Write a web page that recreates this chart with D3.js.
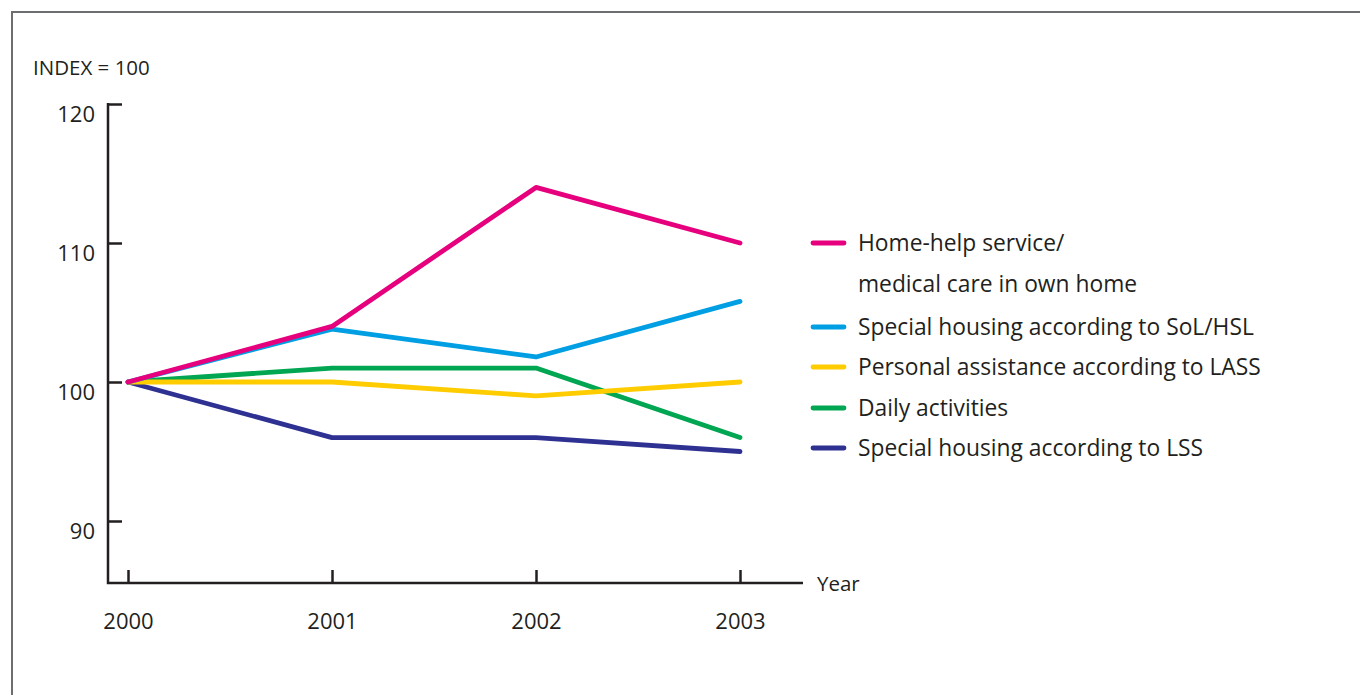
<!DOCTYPE html>
<html>
<head>
<meta charset="utf-8">
<script src="https://cdn.jsdelivr.net/npm/d3@7"></script>
<style>
  html, body { margin: 0; padding: 0; background: #fff; }
  svg { display: block; }
  text { font-family: "Open Sans", "Noto Sans", sans-serif; fill: #231f20; }
</style>
</head>
<body>
<svg id="chart" width="1360" height="695"></svg>
<script>
// Index development, 2000 = 100
const years = ["2000", "2001", "2002", "2003"];
const yTicks = [90, 100, 110, 120];

const homeHelp      = [100, 104, 114, 110];
const housingSoL    = [100, 103.8, 101.8, 105.8];
const assistLASS    = [100, 100, 99, 100];
const dailyAct      = [100, 101, 101, 96];
const housingLSS    = [100, 96, 96, 95];

const seriesNames = [
  ["Home-help service/", "medical care in own home"],
  ["Special housing according to SoL/HSL"],
  ["Personal assistance according to LASS"],
  ["Daily activities"],
  ["Special housing according to LSS"]
];
const seriesValues = [homeHelp, housingSoL, assistLASS, dailyAct, housingLSS];
const seriesColors = ["#e6007e", "#009fe3", "#ffcc00", "#00a651", "#2e3192"];

const svg = d3.select("#chart");
const ink = "#231f20";

// outer frame (runs off the right and bottom edges)
svg.append("rect")
  .attr("x", 12).attr("y", 12)
  .attr("width", 1400).attr("height", 760)
  .attr("fill", "none")
  .attr("stroke", "#6d6e70")
  .attr("stroke-width", 2);

const x = d3.scalePoint().domain(years).range([128, 740]);
const y = d3.scaleLinear().domain([90, 120]).range([521, 104]);

const axisX0 = 108, axisY0 = 583, axisXEnd = 803, axisYTop = 103;

// y axis
const gy = svg.append("g").attr("transform", `translate(${axisX0},0)`)
  .call(d3.axisLeft(y).tickValues(yTicks).tickSize(-14).tickPadding(13).tickFormat(d3.format("d")));
gy.select(".domain").remove();
gy.selectAll(".tick line").attr("stroke", ink).attr("stroke-width", 2.5);
gy.selectAll(".tick text").attr("font-size", 22).attr("dy", "0.8em").style("font-family", "'Open Sans', sans-serif").attr("fill", ink);

// x axis
const gx = svg.append("g").attr("transform", `translate(0,${axisY0})`)
  .call(d3.axisBottom(x).tickSize(-13).tickPadding(30));
gx.select(".domain").remove();
gx.selectAll(".tick line").attr("stroke", ink).attr("stroke-width", 2.5);
gx.selectAll(".tick text").attr("font-size", 22).style("font-family", "'Open Sans', sans-serif").attr("fill", ink);

// axis lines
svg.append("path")
  .attr("d", `M${axisX0},${axisYTop}V${axisY0}H${axisXEnd}`)
  .attr("fill", "none").attr("stroke", ink).attr("stroke-width", 2.5);

svg.append("text").attr("x", 33).attr("y", 75).attr("font-size", 20.5).text("INDEX = 100");
svg.append("text").attr("x", 817).attr("y", 591).attr("font-size", 20.5).text("Year");

// series lines, drawn bottom-up so the first legend entry sits on top
const line = d3.line().x((d, i) => x(years[i])).y(d => y(d));
const order = d3.range(seriesValues.length).reverse();
svg.append("g").selectAll("path")
  .data(order)
  .join("path")
  .attr("d", i => line(seriesValues[i]))
  .attr("fill", "none")
  .attr("stroke", i => seriesColors[i])
  .attr("stroke-width", 4.8)
  .attr("stroke-linejoin", "round")
  .attr("stroke-linecap", "round");

// legend
const rowY = [243, 327, 367, 408, 448];
const lineGap = 41;
const lg = svg.append("g");
seriesNames.forEach((names, i) => {
  lg.append("line")
    .attr("x1", 813).attr("x2", 844)
    .attr("y1", rowY[i]).attr("y2", rowY[i])
    .attr("stroke", seriesColors[i]).attr("stroke-width", 4.8)
    .attr("stroke-linecap", "round");
  names.forEach((t, j) => {
    lg.append("text")
      .attr("x", 858).attr("y", rowY[i] + j * lineGap)
      .attr("dy", "0.36em")
      .attr("font-size", 22.8)
      .text(t);
  });
});
</script>
</body>
</html>
